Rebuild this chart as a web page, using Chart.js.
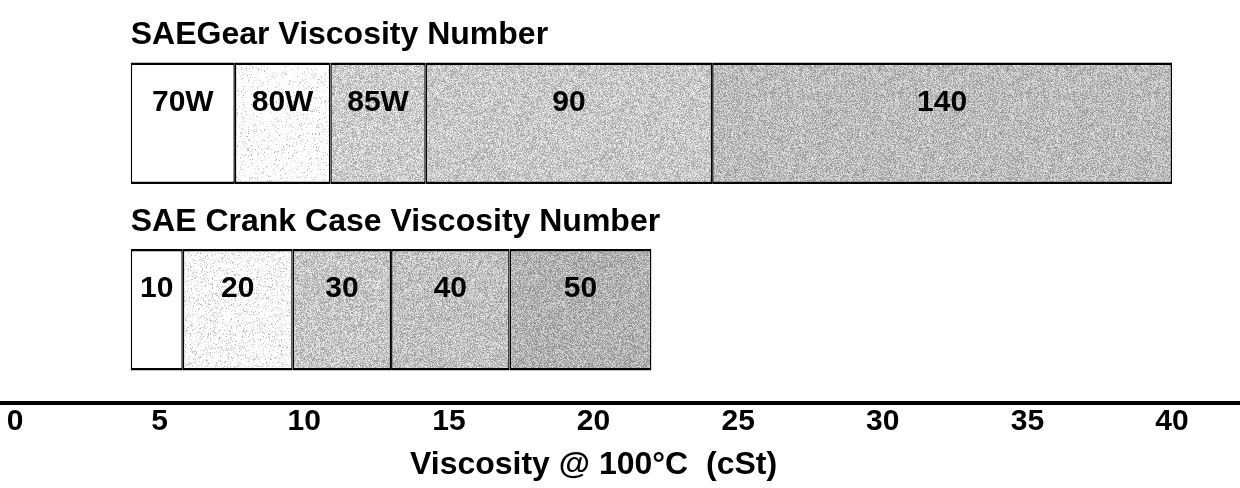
<!DOCTYPE html>
<html>
<head>
<meta charset="utf-8">
<script src="https://cdn.jsdelivr.net/npm/chart.js@4.4.1/dist/chart.umd.min.js"></script>
<style>
  html, body { margin: 0; padding: 0; background: #ffffff; }
  canvas { display: block; }
</style>
</head>
<body>
<canvas id="chart" width="1240" height="488"></canvas>
<script>
// Viscosity grade bands (cSt at 100 °C)
const rowTitles = ['SAEGear Viscosity Number', 'SAE Crank Case Viscosity Number'];
const gearGrades = ['70W', '80W', '85W', '90', '140'];
const gearLimits = [4.0, 7.6, 10.9, 14.2, 24.1, 40.0];
const crankGrades = ['10', '20', '30', '40', '50'];
const crankLimits = [4.0, 5.8, 9.6, 13.0, 17.1, 22.0];
const tickValues = [0, 5, 10, 15, 20, 25, 30, 35, 40];
const axisTitle = 'Viscosity @ 100°C  (cSt)';

const FONT = '"Liberation Sans", Arial, Helvetica, sans-serif';

// small integer hash for a repeatable halftone grain
function hash(x, y, s) {
  let n = Math.imul(x, 374761393) + Math.imul(y, 668265263) + Math.imul(s, 1442695041);
  n = Math.imul(n ^ (n >>> 13), 1274126177);
  n = n ^ (n >>> 16);
  return (n >>> 0) / 4294967296;
}

// grainy grey fill: mean grey level, grain spread, share of speckled pixels
function halftone(mean, spread, coverage, seed) {
  const size = 128;
  const cv = document.createElement('canvas');
  cv.width = size; cv.height = size;
  const g = cv.getContext('2d');
  const img = g.createImageData(size, size);
  for (let y = 0; y < size; y++) {
    for (let x = 0; x < size; x++) {
      const i = (y * size + x) * 4;
      let v = 255;
      if (hash(x, y, seed + 7) < coverage) {
        v = mean + (hash(x, y, seed) - 0.5) * spread;
      }
      v = Math.max(0, Math.min(255, v));
      img.data[i] = img.data[i + 1] = img.data[i + 2] = v;
      img.data[i + 3] = 255;
    }
  }
  g.putImageData(img, 0, 0);
  return g.createPattern(cv, 'repeat');
}

const ctx = document.getElementById('chart').getContext('2d');

const gearFills = [
  '#ffffff',
  halftone(205, 70, 0.08, 11),
  halftone(204, 85, 1, 23),
  halftone(200, 85, 1, 37),
  halftone(188, 85, 1, 41)
];
const crankFills = [
  '#ffffff',
  halftone(218, 70, 0.22, 53),
  halftone(198, 85, 1, 67),
  halftone(193, 85, 1, 71),
  halftone(178, 85, 1, 89)
];

const rowGrades = [gearGrades, crankGrades];
const rowLimits = [gearLimits, crankLimits];
const rowFills = [gearFills, crankFills];

// one dataset per band position; each holds the gear band and the crank case band
const datasets = gearGrades.map((_, i) => ({
  data: rowLimits.map(lim => [lim[i], lim[i + 1]]),
  backgroundColor: rowFills.map(f => f[i]),
  borderColor: '#000000',
  borderWidth: { top: 2.5, bottom: 2.5, left: 1.5, right: 1.5 },
  borderSkipped: false,
  barPercentage: 1,
  categoryPercentage: 0.652
}));

const annotations = {
  id: 'annotations',
  afterDatasetsDraw(chart) {
    const c = chart.ctx;
    c.save();
    c.fillStyle = '#000000';

    // grade names inside each band
    c.font = 'bold 30px ' + FONT;
    c.textAlign = 'center';
    c.textBaseline = 'middle';
    chart.data.datasets.forEach((ds, di) => {
      chart.getDatasetMeta(di).data.forEach((bar, ri) => {
        const top = bar.y - bar.height / 2;
        c.fillText(rowGrades[ri][di], (bar.x + bar.base) / 2, top + 40);
      });
    });

    // row headings above each band strip
    c.font = 'bold 32px ' + FONT;
    c.textAlign = 'left';
    c.textBaseline = 'alphabetic';
    rowTitles.forEach((t, ri) => {
      const bar = chart.getDatasetMeta(0).data[ri];
      c.fillText(t, Math.min(bar.x, bar.base), bar.y - bar.height / 2 - 18);
    });

    // axis title, centred under the labelled range
    const xs = chart.scales.x;
    const mid = (xs.getPixelForValue(tickValues[0]) + xs.getPixelForValue(tickValues[tickValues.length - 1])) / 2;
    c.font = 'bold 32px ' + FONT;
    c.textAlign = 'center';
    c.textBaseline = 'middle';
    c.fillText(axisTitle, mid, xs.bottom + 24);
    c.restore();
  }
};

new Chart(ctx, {
  type: 'bar',
  data: { labels: rowTitles, datasets },
  options: {
    indexAxis: 'y',
    responsive: false,
    animation: false,
    devicePixelRatio: 1,
    layout: { padding: { top: 30, left: 0, right: 0, bottom: 47 } },
    plugins: { legend: { display: false }, tooltip: { enabled: false }, title: { display: false } },
    scales: {
      y: { display: false, stacked: true, offset: true },
      x: {
        stacked: false,
        min: -0.52,
        max: 42.35,
        grid: { display: false, drawTicks: false },
        border: { display: true, color: '#000000', width: 4 },
        afterBuildTicks(scale) { scale.ticks = tickValues.map(v => ({ value: v })); },
        ticks: {
          padding: 1,
          color: '#000000',
          maxRotation: 0,
          autoSkip: false,
          font: { family: FONT, size: 30, weight: 'bold', lineHeight: 1.2 }
        }
      }
    }
  },
  plugins: [annotations]
});
</script>
</body>
</html>
